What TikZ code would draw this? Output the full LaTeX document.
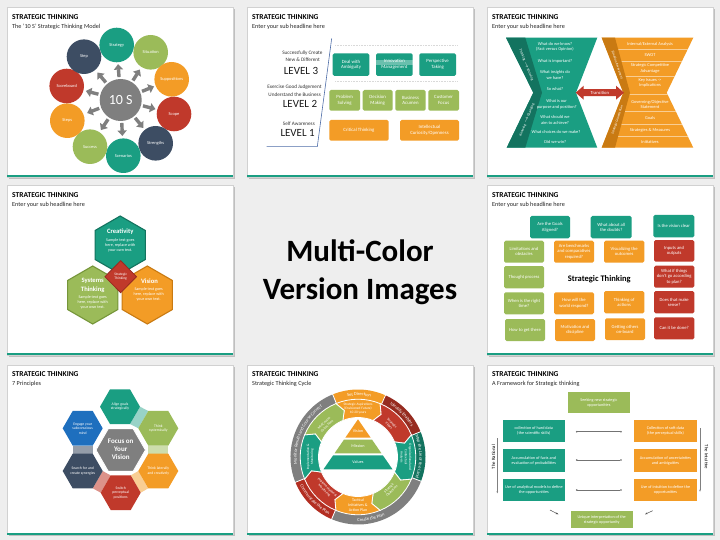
\documentclass[tikz,border=0pt]{standalone}
\usepackage{fontspec}
\setmainfont{Carlito}
\usetikzlibrary{arrows.meta,calc,decorations.text}
\definecolor{stteal}{HTML}{1A9E82}
\definecolor{stdteal}{HTML}{13735F}
\definecolor{stgreen}{HTML}{9BBB59}
\definecolor{stdgreen}{HTML}{76963A}
\definecolor{storange}{HTML}{F39C26}
\definecolor{stdorange}{HTML}{C97A12}
\definecolor{stred}{HTML}{C0392B}
\definecolor{stdred}{HTML}{962B20}
\definecolor{stdredb}{HTML}{B32E22}
\definecolor{stnavy}{HTML}{3D4D63}
\definecolor{stgrey}{HTML}{7F7F7F}
\definecolor{stblue}{HTML}{1E6FBE}
\definecolor{stbg}{HTML}{EEEEEE}
\definecolor{stline}{HTML}{4F6EA8}
\newcommand{\stframe}[2]{%
  \fill[black!25] (8.6,#1+1.6) rectangle (234.6,#2+1.6);
  \fill[white] (7,#1) rectangle (233,#2);
  \draw[black!18,line width=0.3pt] (7,#1) rectangle (233,#2);
  \fill[stteal] (7,#2-1.8) rectangle (233,#2);
}
\newcommand{\sttitle}[3]{%
  \node[sttitlefont,anchor=west] at (12,#1) {STRATEGIC THINKING};
  \node[stsubfont,anchor=west] at (12,#2) {#3};
}
\newcommand{\stbox}[6]{%
  \fill[rounded corners=1.6pt,#5] (#1,#2) rectangle (#3,#4);
  \node[stbt] at ({(#1+#3)/2},{(#2+#4)/2}) {#6};
}
\newcommand{\sthex}[5]{\path[#5,shift={(#1,#2)}] (#4:#3) -- (#4+60:#3) -- (#4+120:#3) -- (#4+180:#3) -- (#4+240:#3) -- (#4+300:#3) -- cycle;}
\begin{document}
\begin{tikzpicture}[x=1pt,y=-1pt,
  sttitlefont/.style={inner sep=0pt,text=black,font=\fontsize{7.5}{8}\selectfont\bfseries},
  stsubfont/.style={inner sep=0pt,text=black!85,font=\fontsize{6.2}{7}\selectfont},
  stbt/.style={text=white,align=center,inner sep=0pt,font=\fontsize{4.6}{5.4}\selectfont},
  circ/.style={circle,minimum size=34.6pt,inner sep=0pt,text=white,align=center,font=\fontsize{4.4}{5}\selectfont},
  sarrow/.style={draw=stgrey,line width=3.4pt,-{Triangle[width=9pt,length=5.5pt]}},
  lbl/.style={inner sep=0pt,text=black!80,font=\fontsize{5.2}{6}\selectfont},
  lvl/.style={inner sep=0pt,text=black!90,font=\fontsize{11}{12}\selectfont}]
\useasboundingbox (0,0) rectangle (720,540);
\fill[stbg] (0,0) rectangle (720,540);

% ---------------- Panel 1 ----------------
\begin{scope}[shift={(0,0)}]
\stframe{7}{177}
\sttitle{17}{27}{The '10 S' Strategic Thinking Model}
\node[circle,fill=stgrey,minimum size=42pt,inner sep=0pt,text=white,font=\fontsize{14}{14}\selectfont] (c10) at (120.7,100) {10 S};
\node[circ,fill=stteal] (o1) at (116.7,45) {Strategy};
\node[circ,fill=stgreen] (o2) at (150.7,52.3) {Situation};
\node[circ,fill=storange] (o3) at (171.7,79.3) {Suppositions};
\node[circ,fill=stred] (o4) at (174,114) {Scope};
\node[circ,fill=stnavy] (o5) at (155.7,143.3) {Strengths};
\node[circ,fill=stteal] (o6) at (123.3,155.7) {Scenarios};
\node[circ,fill=stgreen] (o7) at (90,146.7) {Success};
\node[circ,fill=storange] (o8) at (67.3,120.7) {Steps};
\node[circ,fill=stred] (o9) at (66.7,86) {Scoreboard};
\node[circ,fill=stnavy] (o10) at (84,56.7) {Step};
\foreach \i in {1,...,10} \draw[sarrow] ($(c10.center)!23pt!(o\i.center)$) -- ($(c10.center)!36pt!(o\i.center)$);
\end{scope}

% ---------------- Panel 2 ----------------
\begin{scope}[shift={(240,0)}]
\stframe{7}{177}
\sttitle{17}{27}{Enter your sub headline here}
\draw[stline,line width=0.6pt] (26.7,146.7) -- (77.3,146.7) -- (91.7,38.3);
\draw[black!15,line width=0.4pt,dash pattern=on 0.8pt off 0.8pt] (95,45.7) -- (216.7,45.7) (95,81) -- (216.7,81);
\node[lbl,anchor=east] (l3a) at (82.7,52.7) {Successfully Create};
\node[lbl,anchor=east] (l3b) at (80,60) {New \& Different};
\node[lvl,anchor=east] (l3c) at (78.3,70.7) {LEVEL 3};
\node[lbl,anchor=east] (l2a) at (81.7,87.3) {Exercise Good Judgement};
\node[lbl,anchor=east] (l2b) at (81,94.3) {Understand the Business};
\node[lvl,anchor=east] (l2c) at (77.3,104) {LEVEL 2};
\node[lbl,anchor=east] (l1a) at (75,124) {Self Awareness};
\node[lvl,anchor=east] (l1c) at (75,133.3) {LEVEL 1};
\begin{scope}[stbt/.style={text=white,align=center,inner sep=0pt,font=\fontsize{4.8}{5.8}\selectfont}]
\stbox{92.7}{53.3}{129.3}{76}{stteal}{Deal with\\Ambiguity}
\fill[rounded corners=1.6pt,stteal] (136,53.3) rectangle (172.7,76);
\fill[white,opacity=0.35] (136,59.6) rectangle (172.7,64.6);
\node[stbt] (inno) at (154.35,64.65) {Innovation\\Management};
\stbox{179.3}{53.3}{216}{76}{stteal}{Perspective\\Taking}
\stbox{89.3}{90}{120}{110.7}{stgreen}{Problem\\Solving}
\stbox{122.7}{90}{152.7}{110.7}{stgreen}{Decision\\Making}
\stbox{155.3}{90}{185.7}{110.7}{stgreen}{Business\\Acumen}
\stbox{188.3}{90}{219}{110.7}{stgreen}{Customer\\Focus}
\stbox{89.3}{120}{148.7}{140.7}{storange}{Critical Thinking}
\stbox{160}{120}{219}{140.7}{storange}{Intellectual\\Curiosity/Openness}
\end{scope}
\end{scope}

% ---------------- Panel 3 ----------------
\begin{scope}[shift={(480,0)},stbt/.style={text=white,align=center,inner sep=0pt,font=\fontsize{4.4}{5.2}\selectfont}]
\stframe{7}{177}
\sttitle{17}{27}{Enter your sub headline here}
\fill[stteal] (26,37.7) -- (117.3,37.7) -- (96,92.7) -- (117.3,147.7) -- (26.7,147.7) -- (53.3,92.7) -- cycle;
\fill[stdteal] (26,37.7) -- (45.3,37.7) -- (62,92.7) -- (45.3,147.7) -- (26.7,147.7) -- (53.3,92.7) -- cycle;
\fill[storange] (121.7,37.7) -- (213.3,37.7) -- (186.7,92.7) -- (213.3,147.7) -- (121.7,147.7) -- (143.3,92.7) -- cycle;
\begin{scope}
\clip (135,37.7) -- (213.3,37.7) -- (186.7,92.7) -- (213.3,147.7) -- (135,147.7) -- (150,92.7) -- cycle;
\foreach \yy in {49.7,61.7,76,94,111,124.5,136.5} \draw[white,opacity=0.5,line width=0.5pt] (120,\yy) -- (220,\yy);
\end{scope}
\fill[stdorange] (121.7,37.7) -- (135,37.7) -- (150,92.7) -- (135,147.7) -- (121.7,147.7) -- (143.3,92.7) -- cycle;
\node[stbt] (q1) at (75,46.7) {What do we know?\\(Fact versus Opinion)};
\node[stbt] (q2) at (75,61) {What is important?};
\node[stbt] (q3) at (75,75) {What insights do\\we have?};
\node[stbt] (q4) at (75,89) {So what?};
\node[stbt] (q5) at (76.7,104.3) {What is our\\purpose and position?};
\node[stbt] (q6) at (75,120) {What should we\\aim to achieve?};
\node[stbt] (q7) at (76,131.7) {What choices do we make?};
\node[stbt] (q8) at (75.3,141.7) {Did we win?};
\node[stbt] (r1) at (170,44.3) {Internal/External Analysis};
\node[stbt] (r2) at (170,55) {SWOT};
\node[stbt] (r3) at (170,68.3) {Strategic Competitive\\Advantage};
\node[stbt] (r4) at (170,83.3) {Key Issues ->\\Implications};
\node[stbt] (r5) at (170,104.3) {Governing/Objective\\Statement};
\node[stbt] (r6) at (170,118.3) {Goals};
\node[stbt] (r7) at (170,130.7) {Strategies \& Measures};
\node[stbt] (r8) at (170,142.3) {Initiatives};
\node[stbt,font=\fontsize{3.6}{4}\selectfont,rotate=-68.2] (s1) at (46.3,65) {Thinking $\rightarrow$ Knowing};
\node[stbt,font=\fontsize{3.6}{4}\selectfont,rotate=68.2] (s2) at (46.9,120) {Knowing $\rightarrow$ Changing};
\node[stbt,font=\fontsize{3.4}{4}\selectfont,rotate=-71.6] (s3) at (137.4,65) {Situation Assessment};
\node[stbt,font=\fontsize{3.4}{4}\selectfont,rotate=71.6] (s4) at (137.4,120) {Strategic Growth Plan};
\fill[stred] (95.7,92.7) -- (103.7,85.7) -- (103.7,89.2) -- (136,89.2) -- (136,85.7) -- (144,92.7) -- (136,99.7) -- (136,96.2) -- (103.7,96.2) -- (103.7,99.7) -- cycle;
\node[stbt,font=\fontsize{4.6}{5}\selectfont] (tr) at (119.8,92.7) {Transition};
\end{scope}

% ---------------- Panel 4 ----------------
\begin{scope}[shift={(0,180)}]
\stframe{5}{175}
\sttitle{15}{25}{Enter your sub headline here}
\sthex{92.7}{115}{29}{30}{fill=stgreen,draw=stdgreen,line width=1.1pt}
\sthex{147.3}{115}{29}{30}{fill=storange,draw=stdorange,line width=1.1pt}
\sthex{120.2}{65}{29}{30}{fill=stteal,draw=stdteal,line width=1.1pt}
\path[fill=stred,draw=stdred,line width=0.8pt] (120.7,80.7) -- (136.5,96.7) -- (120.7,112.7) -- (104.9,96.7) -- cycle;
\node[stbt,font=\fontsize{3.6}{4.3}\selectfont] (p4d) at (120.7,96.7) {Strategic\\Thinking};
\node[stbt,font=\fontsize{6.6}{7.8}\selectfont\bfseries] (p4c) at (120.3,51.7) {Creativity};
\node[stbt,font=\fontsize{4.1}{5}\selectfont] (p4ct) at (120.3,65.3) {Sample text goes\\here, replace with\\your own text.};
\node[stbt,font=\fontsize{6.6}{8.2}\selectfont\bfseries] (p4s) at (92.7,105.3) {Systems\\Thinking};
\node[stbt,font=\fontsize{4.1}{5}\selectfont] (p4st) at (92.7,122.7) {Sample text goes\\here, replace with\\your own text.};
\node[stbt,font=\fontsize{6.6}{7.8}\selectfont\bfseries] (p4v) at (149.5,101) {Vision};
\node[stbt,font=\fontsize{4.1}{5}\selectfont] (p4vt) at (148.7,114.3) {Sample text goes\\here, replace with\\your own text.};
\end{scope}

% ---------------- Center text ----------------
\node[inner sep=0pt,anchor=base,font=\fontsize{31}{37}\selectfont\bfseries] (mc1) at (360,261.7) {Multi-Color};
\node[inner sep=0pt,anchor=base,font=\fontsize{31}{37}\selectfont\bfseries] (mc2) at (360,299.3) {Version Images};

% ---------------- Panel 5 ----------------
\begin{scope}[shift={(480,180)}]
\stframe{5}{175}
\sttitle{15}{25}{Enter your sub headline here}
\stbox{50}{36}{90}{58.3}{stteal}{Are the Goals\\Aligned?}
\stbox{110.7}{36}{151.7}{58.3}{stteal}{What about all\\the doubts?}
\stbox{173.3}{35}{214.3}{57.3}{stteal}{Is the vision clear}
\stbox{24}{60.7}{64}{82.7}{stgreen}{Limitations and\\obstacles}
\stbox{24}{86}{64}{108.3}{stgreen}{Thought process}
\stbox{24}{112.3}{64}{134.3}{stgreen}{When is the right\\time?}
\stbox{25}{139}{65}{161}{stgreen}{How to get there}
\stbox{74}{60.7}{114}{82.7}{storange}{Are benchmarks\\and comparatives\\required?}
\stbox{124}{60.7}{164.3}{82.7}{storange}{Visualizing the\\outcomes}
\stbox{74}{112.3}{114}{134.3}{storange}{How will the\\world respond?}
\stbox{124}{111}{164.3}{133.3}{storange}{Thinking of\\actions}
\stbox{75}{139}{115}{161}{storange}{Motivation and\\discipline}
\stbox{125}{138.3}{165}{160}{storange}{Getting others\\on-board}
\stbox{174}{60}{214.3}{81.7}{stred}{Inputs and\\outputs}
\stbox{174}{85.7}{214.3}{107.7}{stred}{What if things\\don't go according\\to plan?}
\stbox{174}{111}{214.3}{133.3}{stred}{Does that make\\sense?}
\stbox{174}{137.3}{214.3}{159.3}{stred}{Can it be done?}
\node[inner sep=0pt,font=\fontsize{8.5}{10}\selectfont\bfseries] (p5c) at (119.3,99) {Strategic Thinking};
\end{scope}

% ---------------- Panel 6 ----------------
\begin{scope}[shift={(0,360)},stbt/.style={text=white,align=center,inner sep=0pt,font=\fontsize{3.8}{4.5}\selectfont}]
\stframe{5}{174.5}
\sttitle{14.3}{24.3}{7 Principles}
\fill[stteal!45!white] (140,46.7) -- (148.3,51) -- (138.3,68.3) -- (130,64) -- cycle;
\fill[stgreen!50!white] (148.3,85.6) -- (168.3,85.6) -- (168.3,93.7) -- (148.3,93.7) -- cycle;
\fill[storange!50!white] (138.3,111) -- (148.3,128.3) -- (140.7,132.7) -- (130.7,115.4) -- cycle;
\fill[stred!55!white] (102.7,111) -- (110.7,115.4) -- (100.7,132.7) -- (92.7,128.3) -- cycle;
\fill[stnavy!55!white] (72.7,85.6) -- (92.7,85.6) -- (92.7,93.7) -- (72.7,93.7) -- cycle;
\sthex{120}{46.7}{20}{0}{fill=stteal}
\sthex{158.3}{68.3}{20}{0}{fill=stgreen}
\sthex{158.3}{111}{20}{0}{fill=storange}
\sthex{120.7}{132.7}{20}{0}{fill=stred}
\sthex{82.7}{111}{20}{0}{fill=stnavy}
\sthex{82.7}{68.3}{20}{0}{fill=stblue}
\sthex{120.7}{90}{24.7}{0}{fill=stgrey,draw=white,line width=0.8pt}
\node[stbt] (h1) at (120,46.7) {Align goals\\strategically};
\node[stbt] (h2) at (158.3,68.3) {Think\\systemically};
\node[stbt] (h3) at (158.3,111) {Think laterally\\and creatively};
\node[stbt] (h4) at (120.7,132.7) {Switch\\perceptual\\positions};
\node[stbt] (h5) at (82.7,111) {Search for and\\create synergies};
\node[stbt] (h6) at (82.7,68.3) {Engage your\\subconscious\\mind};
\node[stbt,font=\fontsize{7}{8}\selectfont\bfseries] (h0) at (120.7,89.5) {Focus on\\Your\\Vision};
\end{scope}

% ---------------- Panel 7 ----------------
\begin{scope}[shift={(240,360)}]
\stframe{5}{174.5}
\sttitle{14.3}{24.3}{Strategic Thinking Cycle}
\begin{scope}[shift={(118,97)},y=1pt]
\foreach \a/\b/\c in {112/66/storange,66/22/stdred,22/-21/stdteal,-21/-113/stgrey,-113/-158/stdredb,202/112/stgrey}
  \fill[\c] (\a:67.5) arc[start angle=\a,end angle=\b,radius=67.5] -- (\b:55) arc[start angle=\b,end angle=\a,radius=55] -- cycle;
\foreach \a in {112,66,22,-21,-113,-158} \draw[white,line width=0.8pt] (\a:54) -- (\a:68.5);
\foreach \c/\col in {90/storange,45/stred,0/stteal,-45/stgreen,-90/storange,-135/stred,180/stteal,135/stgreen} {
  \pgfmathsetmacro\sa{\c+22.5}
  \pgfmathsetmacro\sb{\c-22.5}
  \fill[\col,draw=white,line width=0.8pt] (\sa:57.8) arc[start angle=\sa,end angle=\sb,radius=57.8] -- (\sb-6:48.5) -- (\sb:39.5) arc[start angle=\sb,end angle=\sa,radius=39.5] -- (\sa-6:48.5) -- cycle;
}
\fill[white] (0,0) circle[radius=38.5];
\path[decoration={text along path,text align=center,text={|\color{white}\fontsize{4.5}{5}\selectfont|Set Direction}},decorate] (109:61.3) arc[start angle=109,end angle=69,radius=61.3];
\path[decoration={text along path,text align=center,text={|\color{white}\fontsize{4.5}{5}\selectfont|Identify Enablers}},decorate] (66:61.3) arc[start angle=66,end angle=22,radius=61.3];
\path[decoration={text along path,text align=center,text={|\color{white}\fontsize{4.5}{5}\selectfont|Map the Lie of the Land}},decorate] (22:61.3) arc[start angle=22,end angle=-21,radius=61.3];
\path[decoration={text along path,text align=center,text={|\color{white}\fontsize{4.5}{5}\selectfont|Create the Plan}},decorate] (-100:64.3) arc[start angle=-100,end angle=-56,radius=64.3];
\path[decoration={text along path,text align=center,text={|\color{white}\fontsize{4.5}{5}\selectfont|Communicate the Plan}},decorate] (-158:64.3) arc[start angle=-158,end angle=-113,radius=64.3];
\path[decoration={text along path,text align=center,text={|\color{white}\fontsize{4.5}{5}\selectfont|Monitor Results and Course Correct}},decorate] (200:61.3) arc[start angle=200,end angle=112,radius=61.3];
\begin{scope}[stbt/.style={text=white,align=center,inner sep=0pt,font=\fontsize{3.5}{4.2}\selectfont}]
\node[stbt] (g1) at (90:48.5) {Strategic Aspirations\\(Envisioned Future)\\10-20 years};
\node[stbt,rotate=-45] (g2) at (45:46) {Strategic\\Pillars};
\node[stbt,rotate=-90] (g3) at (0:47.8) {Organizational and\\Contextual\\Analysis};
\node[stbt,rotate=45] (g4) at (-45:46) {Strategic\\Objectives};
\node[stbt,font=\fontsize{4}{4.7}\selectfont] (g5) at (-90:48) {Tactical\\Initiatives \&\\Action Plan};
\node[stbt,rotate=-45] (g6) at (-135:45.5) {Implementation \&\\Monitoring};
\node[stbt,rotate=90] (g7) at (180:47.8) {Implementation \&\\Monitoring};
\node[stbt,rotate=45] (g8) at (135:46) {Mid Course\\Corrections};
\end{scope}
\fill[storange] (0,37.7) -- (12.56,19.5) -- (-12.56,19.5) -- cycle;
\fill[stgreen] (-13.94,17.5) -- (13.94,17.5) -- (23.46,3.7) -- (-23.46,3.7) -- cycle;
\fill[stteal] (-24.84,1.7) -- (24.84,1.7) -- (34.5,-12.3) -- (-34.5,-12.3) -- cycle;
\node[stbt,font=\fontsize{4.2}{5}\selectfont] (pv) at (0,25.5) {Vision};
\node[stbt,font=\fontsize{4.2}{5}\selectfont] (pm) at (0,10.7) {Mission};
\node[stbt,font=\fontsize{4.2}{5}\selectfont] (pva) at (0,-5.3) {Values};
\end{scope}
\end{scope}

% ---------------- Panel 8 ----------------
\begin{scope}[shift={(480,360)},stbt/.style={text=white,align=center,inner sep=0pt,font=\fontsize{4.2}{5}\selectfont}]
\stframe{5}{174.5}
\sttitle{14.3}{24.3}{A Framework for Strategic thinking}
\stbox{87.7}{32.3}{150}{53.3}{stgreen,sharp corners}{Seeking new strategic\\opportunities}
\stbox{22.7}{60}{85}{82.3}{stteal,sharp corners}{collection of hard data\\(the scientific skills)}
\stbox{22.7}{89.3}{85}{111.7}{stteal,sharp corners}{Accumulation of facts and\\evaluation of probabilities}
\stbox{22.7}{119}{85}{141}{stteal,sharp corners}{Use of analytical models to define\\the opportunities}
\stbox{154.3}{60}{216.7}{82.3}{storange,sharp corners}{Collection of soft data\\(the perceptual skills)}
\stbox{154.3}{89.3}{216.7}{111.7}{storange,sharp corners}{Accumulation of uncertainties\\and ambiguities}
\stbox{154.3}{119}{216.7}{141}{storange,sharp corners}{Use of intuition to define the\\opportunities}
\stbox{90.7}{150.7}{152.7}{168.3}{stgreen,sharp corners}{Unique interpretation of the\\strategic opportunity}
\foreach \i/\yy in {1/71.7,2/100,3/130} {
  \coordinate (cl\i) at (96,\yy);
  \coordinate (cr\i) at (141.7,\yy);
  \draw[black!55,line width=0.5pt,{Circle[length=1.6pt]}-{Circle[length=1.6pt]}] (cl\i) -- (cr\i);
}
\coordinate (vl1) at (17.3,78.3); \coordinate (vl2) at (17.3,133.3);
\coordinate (vr1) at (220,68.3); \coordinate (vr2) at (220,131.7);
\draw[black!50,line width=0.4pt,-{Stealth[length=2pt,width=1.6pt]}] (vl1) -- (vl2);
\draw[black!50,line width=0.4pt,-{Stealth[length=2pt,width=1.6pt]}] (vr1) -- (vr2);
\node[rotate=90,inner sep=0pt,font=\fontsize{4.8}{5}\selectfont] (rat) at (13.5,97) {The Rational};
\node[rotate=-90,inner sep=0pt,font=\fontsize{4.8}{5}\selectfont] (int) at (226.5,97) {The Intuitive};
\coordinate (ba1) at (70,150); \coordinate (ba2) at (78.3,154.3);
\coordinate (bb1) at (172.7,150.7); \coordinate (bb2) at (165,154.3);
\draw[black!70,line width=0.5pt,-{Stealth[length=2.5pt]}] (ba1) -- (ba2);
\draw[black!70,line width=0.5pt,-{Stealth[length=2.5pt]}] (bb1) -- (bb2);
\end{scope}
\end{tikzpicture}
\end{document}
